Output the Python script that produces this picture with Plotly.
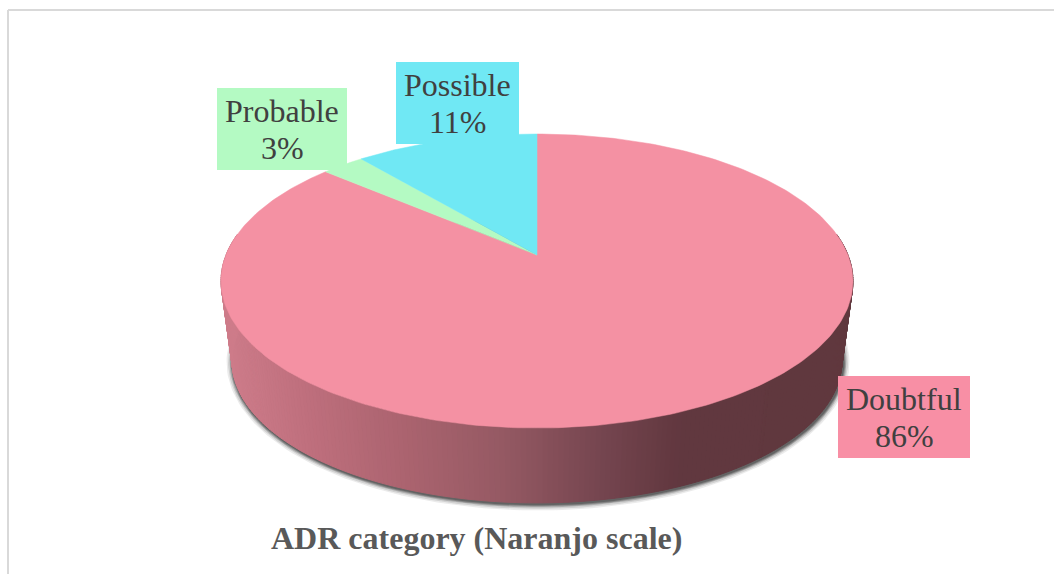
import numpy as np
import plotly.graph_objects as go

categories = ["Doubtful", "Probable", "Possible"]
shares = [86.3, 2.6, 11.1]
slice_colors = ["#F491A3", "#B4FAC3", "#70E8F4"]
box_colors = ["#F88FA5", "#B4FAC3", "#70E8F4"]
chart_title = "ADR category (Naranjo scale)"

# pixel layout of the fake 3D pie
W, H = 1054, 574
APEX_X, APEX_Y = 537, 255
RX, RY, PERSP = 311, 142.4, 0.177
SIDE_SCALE, SIDE_DY = 0.965, 80
FONT = "Liberation Serif"
# centre of each label box
label_boxes = {"Doubtful": (904, 417, 132, 82), "Probable": (282, 129, 130, 82), "Possible": (457.5, 103, 123, 82)}
# left to right colours of the rim
grad_x = [226, 300, 400, 500, 600, 680, 850]
grad_r = [206, 192, 172, 150, 118, 98, 96]
grad_g = [124, 112, 100, 90, 70, 56, 56]
grad_b = [138, 126, 112, 100, 80, 64, 62]


def rim(phi):
    d = 1 + PERSP * np.cos(phi)
    return APEX_X + RX * np.sin(phi) / d, APEX_Y - RY * np.cos(phi) / d


def lower(x, y):
    mid_y = APEX_Y + 26
    return APEX_X + SIDE_SCALE * (x - APEX_X), mid_y + SIDE_DY + SIDE_SCALE * (y - mid_y)


fig = go.Figure()

# soft shadow under the base
t = np.linspace(0, 2 * np.pi, 240)
for grow, alpha in zip([6.5, 5, 3.5, 2.5, 1.5], [0.1, 0.15, 0.25, 0.35, 0.45]):
    x, y = lower(*rim(t))
    x = APEX_X + (x - APEX_X) * (1 + grow / 305) + 1
    y = (y - 361) * (1 + grow / 142) + 361 + 1
    fig.add_trace(go.Scatter(x=x, y=y, mode="lines", fill="toself", fillcolor=f"rgba(60,60,60,{alpha})",
                             line=dict(width=0), hoverinfo="skip"))

# rim, cut in thin strips to get the gradient (front half only, the back is hidden)
edges = np.linspace(np.pi / 2 - 0.15, 3 * np.pi / 2 + 0.15, 241)
for a0, a1 in zip(edges[:-1], edges[1:]):
    xs, ys = rim(np.array([a0, a1]))
    xb, yb = lower(xs, ys)
    mx = xs.mean()
    c = "rgb(%d,%d,%d)" % (np.interp(mx, grad_x, grad_r), np.interp(mx, grad_x, grad_g), np.interp(mx, grad_x, grad_b))
    fig.add_trace(go.Scatter(x=[xs[0], xs[1], xb[1], xb[0], xs[0]], y=[ys[0], ys[1], yb[1], yb[0], ys[0]],
                             mode="lines", fill="toself", fillcolor=c, line=dict(width=1, color=c), hoverinfo="skip"))

# top face, one wedge per category, clockwise from 12 o'clock
limits = np.cumsum([0] + shares) / sum(shares) * 2 * np.pi
for i, name in enumerate(categories):
    phi = np.linspace(limits[i], limits[i + 1], 300)
    x, y = rim(phi)
    fig.add_trace(go.Scatter(x=np.r_[APEX_X, x, APEX_X], y=np.r_[APEX_Y, y, APEX_Y], mode="lines", fill="toself",
                             fillcolor=slice_colors[i], line=dict(width=0.5, color=slice_colors[i]),
                             name=name, hoverinfo="name"))

shapes = [
    dict(type="line", x0=8, x1=8, y0=10, y1=H, line=dict(color="#D9D9D9", width=2)),
    dict(type="line", x0=8, x1=W, y0=10, y1=10, line=dict(color="#D9D9D9", width=2)),
]
annotations = []
for i, name in enumerate(categories):
    cx, cy, bw, bh = label_boxes[name]
    shapes.append(dict(type="rect", x0=cx - bw / 2, x1=cx + bw / 2, y0=cy - bh / 2, y1=cy + bh / 2,
                       fillcolor=box_colors[i], line=dict(width=0)))
    for txt, dy in ((name, -18.5), (f"{round(shares[i])}%", 18.5)):
        annotations.append(dict(x=cx, y=cy + dy, text=txt, showarrow=False, xanchor="center", yanchor="middle",
                                font=dict(family=FONT, size=32, color="#404040")))
annotations.append(dict(x=476.5, y=538, text=f"<b>{chart_title}</b>", showarrow=False, xanchor="center",
                        yanchor="middle", font=dict(family=FONT, size=32, color="#595959")))

fig.update_layout(width=W, height=H, margin=dict(l=0, r=0, t=0, b=0), showlegend=False,
                  paper_bgcolor="white", plot_bgcolor="white", shapes=shapes, annotations=annotations,
                  xaxis=dict(range=[0, W], visible=False, fixedrange=True),
                  yaxis=dict(range=[H, 0], visible=False, fixedrange=True))

fig.write_html("out.html", config=dict(displayModeBar=False), post_script="document.body.style.margin='0';")
